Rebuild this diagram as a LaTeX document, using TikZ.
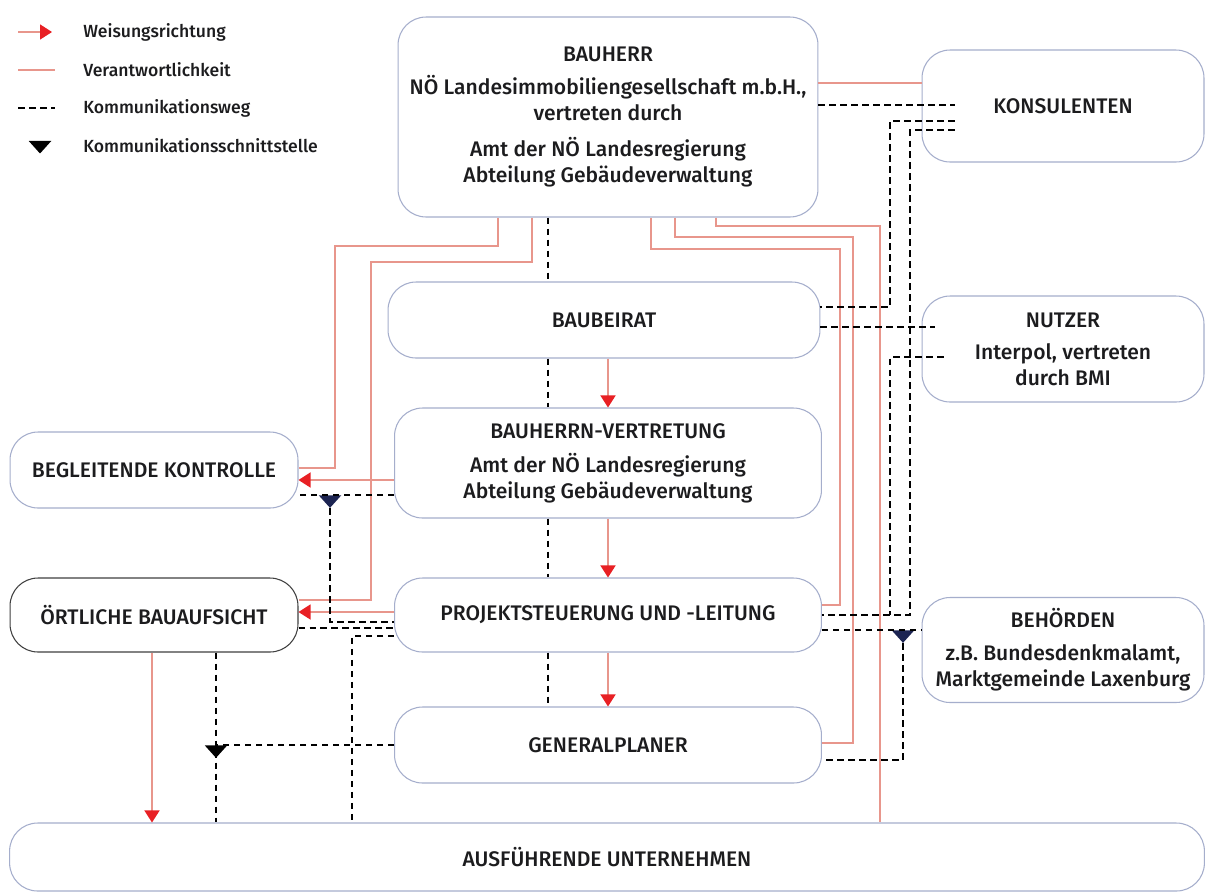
\documentclass[tikz,border=0pt]{standalone}
\usepackage{fontspec}
\setmainfont{Fira Sans}[UprightFont={* Medium}]
\usepackage{tikz}
\usetikzlibrary{arrows.meta, shapes.geometric}

\definecolor{rahmen}{RGB}{165,174,204}
\definecolor{rotlinie}{RGB}{232,150,140}
\definecolor{rotspitze}{RGB}{232,32,36}
\definecolor{schrift}{RGB}{28,28,30}
\definecolor{marine}{RGB}{28,36,82}

\begin{document}
\begin{tikzpicture}[x=0.02cm, y=-0.02cm,
    kasten/.style={draw=rahmen, line width=0.6pt, rounded corners=0.56cm, align=center,
      inner sep=0pt, text=schrift, font=\fontsize{12}{14.8}\selectfont},
    linie/.style={draw=rotlinie, line width=0.8pt},
    weisung/.style={linie, -{Triangle[width=0.3cm, length=0.24cm, color=rotspitze]}},
    komm/.style={draw=black, line width=0.95pt, dash pattern=on 0.13cm off 0.09cm},
    schnitt/.style={isosceles triangle, isosceles triangle apex angle=84, shape border rotate=-90,
      fill=black, inner sep=0pt, minimum size=0.25cm, anchor=north},
    legende/.style={anchor=west, inner sep=0pt, text=schrift, font=\fontsize{10}{12}\selectfont}]

    \useasboundingbox[fill=white] (0,0) rectangle (1209,893);

    % 1. Legende
    \node[legende] (l1) at (83,32) {Weisungsrichtung};
    \node[legende] (l2) at (83,70) {Verantwortlichkeit};
    \node[legende] (l3) at (83,108) {Kommunikationsweg};
    \node[legende] (l4) at (83,146) {Kommunikationsschnittstelle};
    \draw[weisung] ([xshift=-1.3cm]l1.west) -- ([xshift=-0.62cm]l1.west);
    \draw[linie] ([xshift=-1.3cm]l2.west) -- ([xshift=-0.56cm]l2.west);
    \draw[komm] ([xshift=-1.3cm]l3.west) -- ([xshift=-0.56cm]l3.west);
    \node[schnitt, anchor=center] (s0) at ([xshift=-0.86cm]l4.west) {};

    % 2. Kaesten
    \node[kasten, minimum width=8.4cm, minimum height=4cm] (bauherr) at (608,117)
      {BAUHERR\\[4pt] NÖ Landesimmobiliengesellschaft m.b.H.,\\ vertreten durch\\[6pt]
       Amt der NÖ Landesregierung\\ Abteilung Gebäudeverwaltung};
    \node[kasten, minimum width=5.64cm, minimum height=2.24cm] (konsulenten) at (1063,106) {KONSULENTEN};
    \node[kasten, minimum width=8.64cm, minimum height=1.52cm] (baubeirat) at (604,320) {BAUBEIRAT};
    \node[kasten, minimum width=5.64cm, minimum height=2.12cm] (nutzer) at (1063,349)
      {NUTZER\\[3.4pt] Interpol, vertreten\\ durch BMI};
    \node[kasten, minimum width=5.76cm, minimum height=1.52cm] (begleitende) at (154,470) {BEGLEITENDE KONTROLLE};
    \node[kasten, minimum width=8.54cm, minimum height=2.2cm] (vertretung) at (608,463)
      {BAUHERRN-VERTRETUNG\\[4.6pt] Amt der NÖ Landesregierung\\ Abteilung Gebäudeverwaltung};
    \node[kasten, draw=black!75, minimum width=5.76cm, minimum height=1.48cm] (oertliche) at (154,615) {ÖRTLICHE BAUAUFSICHT};
    \node[kasten, minimum width=8.54cm, minimum height=1.48cm] (projekt) at (608,615) {PROJEKTSTEUERUNG UND -LEITUNG};
    \node[kasten, minimum width=5.64cm, minimum height=2.1cm] (behoerden) at (1063,650)
      {BEHÖRDEN\\[4pt] z.B. Bundesdenkmalamt,\\ Marktgemeinde Laxenburg};
    \node[kasten, minimum width=8.54cm, minimum height=1.52cm] (generalplaner) at (608,745) {GENERALPLANER};
    \node[kasten, minimum width=23.9cm, minimum height=1.36cm] (ausfuehrende) at (607,857) {AUSFÜHRENDE UNTERNEHMEN};

    % 3. Weisungsrichtung
    \draw[weisung] (vertretung.north |- baubeirat.south) -- (vertretung.north);
    \draw[weisung] (vertretung.south) -- (projekt.north);
    \draw[weisung] (projekt.south) -- (generalplaner.north);
    \draw[weisung] (vertretung.west |- 0,480) -- (begleitende.east |- 0,480);
    \draw[weisung] (projekt.west |- 0,612) -- (oertliche.east |- 0,612);
    \draw[weisung] (oertliche.south -| 152,0) -- (ausfuehrende.north -| 152,0);

    % 4. Verantwortlichkeit
    \draw[linie] (bauherr.east |- 0,83) -- (konsulenten.west |- 0,83);
    \draw[linie] (bauherr.south -| 498,0) |- (335,246) |- (begleitende.east |- 0,468);
    \draw[linie] (bauherr.south -| 532,0) |- (371,262) |- (oertliche.east |- 0,600);
    \draw[linie] (bauherr.south -| 651,0) |- (840,249) |- (projekt.east |- 0,605);
    \draw[linie] (bauherr.south -| 675,0) |- (853,237) |- (generalplaner.east |- 0,743);
    \draw[linie] (bauherr.south -| 716,0) |- (880,226) -- (ausfuehrende.north -| 880,0);

    % 5. Kommunikationsweg, Mitte
    \draw[komm] (bauherr.south -| 548,0) -- (baubeirat.north -| 548,0);
    \draw[komm] (baubeirat.south -| 548,0) -- (vertretung.north -| 548,0);
    \draw[komm] (vertretung.south -| 548,0) -- (projekt.north -| 548,0);
    \draw[komm] (projekt.south -| 548,0) -- (generalplaner.north -| 548,0);

    % 6. Kommunikationsweg, rechts
    \draw[komm, shorten >=-0.66cm] (bauherr.east |- 0,105) -- (konsulenten.west |- 0,105);
    \draw[komm, shorten <=-0.66cm] (konsulenten.west |- 0,121) -| (890,307) -- (baubeirat.east |- 0,307);
    \draw[komm, shorten <=-0.66cm] (konsulenten.west |- 0,130) -| (910,615) -- (projekt.east |- 0,615);
    \draw[komm, shorten >=-0.26cm] (baubeirat.east |- 0,327) -- (nutzer.west |- 0,327);
    \coordinate (t1) at (890,615);
    \draw[komm, shorten <=-0.44cm] (nutzer.west |- 0,357) -| (t1);
    \node[schnitt, fill=marine] (s3) at (903,630) {};
    \draw[komm] (projekt.east |- 0,630) -- (behoerden.west |- 0,630);
    \draw[komm] (s3.apex) |- (generalplaner.east |- 0,760);

    % 7. Kommunikationsweg, links
    \node[schnitt, fill=marine] (s1) at (330,495) {};
    \draw[komm] (vertretung.west |- 0,495) -- (begleitende.east |- 0,495);
    \draw[komm] (s1.apex) |- (projekt.west |- 0,622);
    \draw[komm] (oertliche.east |- 0,628) -- (projekt.west |- 0,628);
    \draw[komm] (projekt.west |- 0,636) -| (ausfuehrende.north -| 352,0);
    \node[schnitt] (s2) at (216,745) {};
    \draw[komm] (oertliche.south -| 216,0) -- (ausfuehrende.north -| 216,0);
    \draw[komm] (generalplaner.west) -- (s2.north);

\end{tikzpicture}
\end{document}
